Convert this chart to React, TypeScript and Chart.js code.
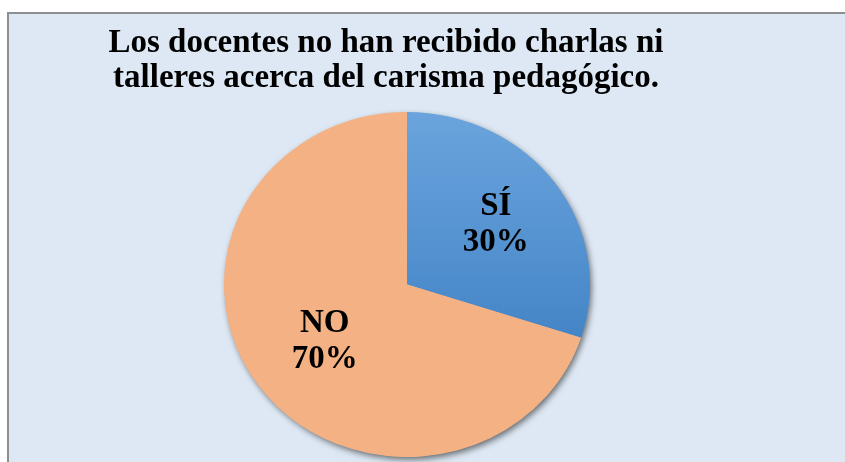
import React, { useEffect, useRef } from "react";
import { Chart, registerables } from "chart.js";

Chart.register(...registerables);

const categories = ["SÍ", "NO"];
const values = [30, 70];
const percentLabels = ["30%", "70%"];
const titleLines = [
  "Los docentes no han recibido charlas ni",
  "talleres acerca del carisma pedagógico.",
];

const X_STRETCH = 1.061;
const LABEL_RADIUS = [0.6, 0.556];
const SERIF = '"Liberation Serif", "Times New Roman", serif';

export default function App() {
  const ref = useRef<HTMLCanvasElement>(null);

  useEffect(() => {
    const canvas = ref.current;
    if (!canvas) return;

    const titlePlugin = {
      id: "customTitle",
      afterDraw(chart: any) {
        const ctx = chart.ctx;
        ctx.save();
        ctx.fillStyle = "#000";
        ctx.font = `bold 33px ${SERIF}`;
        ctx.textAlign = "center";
        ctx.textBaseline = "alphabetic";
        ctx.fillText(titleLines[0], 386, 52);
        ctx.fillText(titleLines[1], 386, 87);
        ctx.restore();
      },
    };

    const piePlugin = {
      id: "pieStretch",
      beforeDatasetsDraw(chart: any) {
        const arc = chart.getDatasetMeta(0).data[0];
        const { x, y, outerRadius } = arc.getProps(["x", "y", "outerRadius"], true);
        const ctx = chart.ctx;
        ctx.save();
        ctx.translate(x, y);
        ctx.scale(X_STRETCH, 1);
        ctx.translate(-x, -y);
        ctx.save();
        ctx.shadowColor = "rgba(0,0,0,0.55)";
        ctx.shadowBlur = 6;
        ctx.shadowOffsetX = 2;
        ctx.shadowOffsetY = 3;
        ctx.beginPath();
        ctx.arc(x, y, outerRadius - 0.5, 0, Math.PI * 2);
        ctx.fillStyle = "#f4b183";
        ctx.fill();
        ctx.restore();
      },
      afterDatasetsDraw(chart: any) {
        const ctx = chart.ctx;
        ctx.restore();
        const meta = chart.getDatasetMeta(0);
        ctx.save();
        ctx.fillStyle = "#000";
        ctx.font = `bold 33px ${SERIF}`;
        ctx.textAlign = "center";
        ctx.textBaseline = "alphabetic";
        meta.data.forEach((el: any, i: number) => {
          const { x, y, startAngle, endAngle, outerRadius } = el.getProps(
            ["x", "y", "startAngle", "endAngle", "outerRadius"],
            true
          );
          const mid = (startAngle + endAngle) / 2;
          const r = outerRadius * LABEL_RADIUS[i];
          const px = x + Math.cos(mid) * r * X_STRETCH;
          const py = y + Math.sin(mid) * r;
          ctx.fillText(categories[i], px, py - 9);
          ctx.fillText(percentLabels[i], px, py + 27);
        });
        ctx.restore();
      },
    };

    const chart = new Chart(canvas, {
      type: "pie",
      data: {
        labels: categories,
        datasets: [
          {
            data: values,
            backgroundColor: (c: any) => {
              if (c.dataIndex === 1) return "#f4b183";
              const area = c.chart.chartArea;
              if (!area) return "#5b9bd5";
              const g = c.chart.ctx.createLinearGradient(0, area.top, 0, area.top + area.height * 0.66);
              g.addColorStop(0, "#6ba4dd");
              g.addColorStop(1, "#4485c7");
              return g;
            },
            borderWidth: 0,
          },
        ],
      },
      options: {
        responsive: false,
        animation: false,
        devicePixelRatio: 1,
        events: [],
        layout: { padding: { top: 112, bottom: 5, left: 234.5, right: 265.5 } },
        plugins: {
          legend: { display: false },
          tooltip: { enabled: false },
          title: { display: false },
        },
      },
      plugins: [piePlugin, titlePlugin],
    });

    return () => chart.destroy();
  }, []);

  return (
    <div>
      <div
        style={{
          position: "fixed",
          left: 7,
          top: 12,
          right: 0,
          bottom: 0,
          background: "#dde8f4",
          borderTop: "2px solid #8e8e8e",
          borderLeft: "2px solid #8e8e8e",
        }}
      />
      <canvas
        ref={ref}
        width={845}
        height={462}
        style={{ position: "fixed", left: 0, top: 0, width: 845, height: 462 }}
      />
    </div>
  );
}
